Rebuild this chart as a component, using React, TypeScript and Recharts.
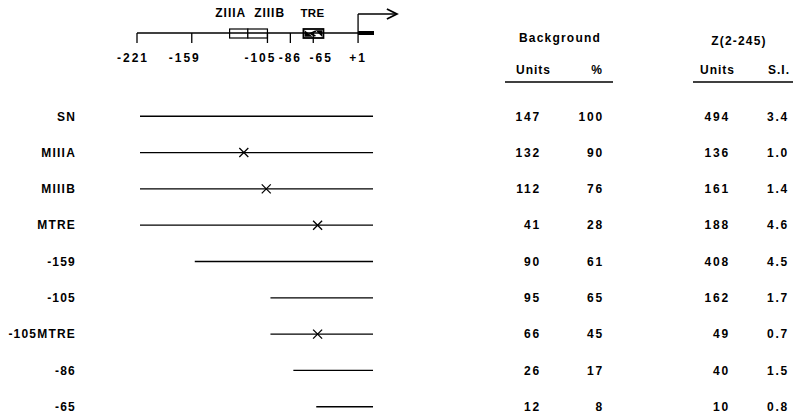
import React from "react";
import {
  ComposedChart,
  Scatter,
  XAxis,
  YAxis,
  ReferenceLine,
  ReferenceArea,
  ReferenceDot,
} from "recharts";

// constructs, top to bottom
const CONSTRUCTS = ["SN", "MIIIA", "MIIIB", "MTRE", "-159", "-105", "-105MTRE", "-86", "-65"];
const CONSTRUCT_START = [-221, -221, -221, -221, -159, -105, -105, -86, -65];
const CONSTRUCT_END = 13; // lines run a little past +1 into the reporter
const MUTATION_SITE: (number | null)[] = [null, -124, -108, -63, null, null, -63, null, null];

// table
const BG_UNITS = [147, 132, 112, 41, 90, 95, 66, 26, 12];
const BG_PERCENT = [100, 90, 76, 28, 61, 65, 45, 17, 8];
const Z_UNITS = [494, 136, 161, 188, 408, 162, 49, 40, 10];
const Z_SI = ["3.4", "1.0", "1.4", "4.6", "4.5", "1.7", "0.7", "1.5", "0.8"];

// promoter map; the published map is not drawn to scale, so each labelled
// position also gets the spot where it sits along the drawn line
const MAP_TICKS = [-221, -159, -105, -86, -65, 1];
const MAP_TICKS_DRAWN = [-221, -166, -90, -67, -44, 1];
const MAP_BOXES = [
  { name: "ZIIIA", from: -132, to: -119 },
  { name: "ZIIIB", from: -119, to: -105 },
  { name: "TRE", from: -74, to: -50 },
];
const REPORTER_END = 17;
const ARROW_END = 40;

const FONT = '"Liberation Sans", Arial, Helvetica, sans-serif';
const ROWS = CONSTRUCTS.map((_, i) => i);

function drawn(bp: number) {
  if (bp >= 1) return bp;
  for (let i = 1; i < MAP_TICKS.length; i++) {
    if (bp <= MAP_TICKS[i]) {
      const t = (bp - MAP_TICKS[i - 1]) / (MAP_TICKS[i] - MAP_TICKS[i - 1]);
      return MAP_TICKS_DRAWN[i - 1] + t * (MAP_TICKS_DRAWN[i] - MAP_TICKS_DRAWN[i - 1]);
    }
  }
  return bp;
}

const TICK_NUDGE: Record<number, number> = { "-221": -4, "-159": -7, "-105": -7, "-86": 0, "-65": 8, "1": 0 };
const BOX_LABEL_NUDGE: Record<string, number> = { ZIIIA: -8, ZIIIB: 12, TRE: -1 };

function MapTick(props: any) {
  const { x, y, payload } = props;
  const i = MAP_TICKS_DRAWN.indexOf(payload.value);
  const bp = MAP_TICKS[i];
  return (
    <text
      x={x + (TICK_NUDGE[bp] || 0)}
      y={y}
      dy="0.71em"
      textAnchor="middle"
      fill="#000"
      fontSize={12}
      fontWeight={700}
      fontFamily={FONT}
      letterSpacing={2}
    >
      {bp > 0 ? `+${bp}` : `${bp}`}
    </text>
  );
}

function MapBox(props: any) {
  const { x, y, width, height, name } = props;
  const isTre = name === "TRE";
  return (
    <g>
      <rect x={x} y={y} width={width} height={height} fill="#fff" stroke="#000" strokeWidth={isTre ? 1.8 : 1.2} />
      {isTre && (
        <g stroke="#000" strokeWidth={1.6} fill="none">
          <path d={`M${x + 2},${y + height - 2} L${x + 7},${y + height - 2} L${x + 2},${y + 3} Z`} fill="#000" />
          <path d={`M${x + width * 0.62},${y + 2} L${x + width * 0.35},${y + height / 2} L${x + width * 0.6},${y + height - 2}`} />
          <path d={`M${x + width - 6},${y + 2} L${x + width - 2},${y + 2} L${x + width - 2},${y + 6} Z`} fill="#000" />
        </g>
      )}
      <text
        x={x + width / 2 + (BOX_LABEL_NUDGE[name] || 0)}
        y={y - 16}
        textAnchor="middle"
        dominantBaseline="central"
        fill="#000"
        fontSize={isTre ? 11.5 : 12}
        fontWeight={700}
        fontFamily={FONT}
        letterSpacing={isTre ? 0.3 : 1}
      >
        {name}
      </text>
    </g>
  );
}

function ArrowHead(props: any) {
  const { cx, cy } = props;
  return <path d={`M${cx - 10},${cy - 5} L${cx},${cy} L${cx - 10},${cy + 5}`} fill="none" stroke="#000" strokeWidth={1.8} />;
}

function XMark(props: any) {
  const { cx, cy } = props;
  if (cx == null || cy == null) return <g />;
  return (
    <g stroke="#000" strokeWidth={1.3}>
      <line x1={cx - 4.5} y1={cy - 4.5} x2={cx + 4.5} y2={cy + 4.5} />
      <line x1={cx - 4.5} y1={cy + 4.5} x2={cx + 4.5} y2={cy - 4.5} />
    </g>
  );
}

const NoDot = () => <g />;

type Column = {
  key: string;
  title: string;
  values: (number | string)[];
  width: number;
  edge: number;
  titleNudge: number;
  group?: { title: string; dx: number; lineFrom: number; lineTo: number; dy: number };
};

// right-hand axes are laid out in id order, so ids c0..c3 keep them left to right
const COLUMNS: Column[] = [
  { key: "c0", title: "Units", values: BG_UNITS, width: 200, edge: 164, titleNudge: 10,
    group: { title: "Background", dx: 19, lineFrom: -36, lineTo: 72, dy: -71 } },
  { key: "c1", title: "%", values: BG_PERCENT, width: 63, edge: 27, titleNudge: -1 },
  { key: "c2", title: "Units", values: Z_UNITS, width: 100, edge: 90, titleNudge: 5,
    group: { title: "Z(2-245)", dx: 9, lineFrom: -37, lineTo: 63, dy: -68 } },
  { key: "c3", title: "S.I.", values: Z_SI, width: 53, edge: 49, titleNudge: 1 },
];

function ColumnHeader(props: any) {
  const { viewBox, col } = props;
  const right = viewBox.x + col.edge;
  const top = viewBox.y;
  const text = { fill: "#000", fontFamily: FONT, fontSize: 12, fontWeight: 700, dominantBaseline: "central" as const };
  return (
    <g>
      <text {...text} x={right + col.titleNudge} y={top - 39} textAnchor="end" letterSpacing={1}>
        {col.title}
      </text>
      {col.group && (
        <>
          <text {...text} x={right + col.group.dx} y={top + col.group.dy} textAnchor="middle" letterSpacing={1.2}>
            {col.group.title}
          </text>
          <line x1={right + col.group.lineFrom} x2={right + col.group.lineTo} y1={top - 27} y2={top - 27} stroke="#000" strokeWidth={1.5} />
        </>
      )}
    </g>
  );
}

function MapChart() {
  return (
    <ComposedChart width={420} height={75} margin={{ top: 14, right: 46, bottom: 0, left: 137 }} data={[]}>
      <XAxis
        type="number"
        dataKey="x"
        domain={[-221, REPORTER_END]}
        allowDataOverflow
        ticks={MAP_TICKS.map(drawn)}
        interval={0}
        axisLine={false}
        tickLine={{ stroke: "#000", strokeWidth: 1.3 }}
        tickSize={10}
        tickMargin={10}
        height={42}
        tick={<MapTick />}
      />
      <YAxis type="number" domain={[0, 19]} allowDataOverflow hide />
      <ReferenceLine
        segment={[{ x: drawn(-221), y: 0 }, { x: drawn(1), y: 0 }]}
        stroke="#000"
        strokeWidth={1.3}
        ifOverflow="visible"
      />
      <ReferenceLine
        segment={[{ x: drawn(1), y: 0 }, { x: drawn(REPORTER_END), y: 0 }]}
        stroke="#000"
        strokeWidth={4}
        ifOverflow="visible"
      />
      <ReferenceLine
        segment={[{ x: drawn(1), y: 0 }, { x: drawn(1), y: 19 }]}
        stroke="#000"
        strokeWidth={1.3}
        ifOverflow="visible"
      />
      <ReferenceLine
        segment={[{ x: drawn(1), y: 19 }, { x: ARROW_END, y: 19 }]}
        stroke="#000"
        strokeWidth={1.3}
        ifOverflow="visible"
      />
      <ReferenceDot x={ARROW_END} y={19} ifOverflow="visible" shape={<ArrowHead />} />
      {MAP_BOXES.map((b) => (
        <ReferenceArea
          key={b.name}
          x1={drawn(b.from)}
          x2={drawn(b.to)}
          y1={-5}
          y2={4}
          ifOverflow="visible"
          shape={<MapBox name={b.name} />}
        />
      ))}
    </ComposedChart>
  );
}

function ConstructChart() {
  return (
    <ComposedChart width={793} height={418} margin={{ top: 109, right: 0, bottom: 4, left: 0 }}>
      <XAxis type="number" dataKey="x" domain={[-221, REPORTER_END]} allowDataOverflow hide />
      <YAxis
        yAxisId="rows"
        type="number"
        dataKey="y"
        domain={[-0.2, 8.2]}
        allowDataOverflow
        reversed
        ticks={ROWS}
        interval={0}
        width={140}
        axisLine={false}
        tickLine={false}
        tickSize={0}
        tickMargin={64}
        tickFormatter={(i: number) => CONSTRUCTS[i]}
        tick={{ fill: "#000", fontSize: 12, fontWeight: 700, fontFamily: FONT, letterSpacing: 1.2 }}
      />
      {COLUMNS.map((c) => (
        <YAxis
          key={c.key}
          yAxisId={c.key}
          orientation="right"
          type="number"
          domain={[-0.2, 8.2]}
          allowDataOverflow
          reversed
          ticks={ROWS}
          interval={0}
          width={c.width}
          axisLine={false}
          tickLine={false}
          tickSize={0}
          tickMargin={c.edge}
          tickFormatter={(i: number) => String(c.values[i])}
          tick={{ fill: "#000", fontSize: 12, fontWeight: 700, fontFamily: FONT, letterSpacing: 1.8, textAnchor: "end" }}
          label={<ColumnHeader col={c} />}
        />
      ))}
      {CONSTRUCTS.map((name, i) => (
        <Scatter
          key={name}
          yAxisId="rows"
          data={[
            { x: drawn(CONSTRUCT_START[i]), y: i },
            { x: drawn(CONSTRUCT_END), y: i },
          ]}
          dataKey="x"
          line={{ stroke: "#000", strokeWidth: 1.3 }}
          shape={<NoDot />}
          isAnimationActive={false}
        />
      ))}
      <Scatter
        yAxisId="rows"
        data={MUTATION_SITE.flatMap((site, i) => (site == null ? [] : [{ x: drawn(site), y: i }]))}
        dataKey="x"
        shape={<XMark />}
        isAnimationActive={false}
      />
    </ComposedChart>
  );
}

export default function App() {
  return (
    <div style={{ position: "relative", width: 793, height: 418, background: "#fff" }}>
      <style>{"body{margin:0}"}</style>
      <div style={{ position: "absolute", left: 0, top: 0 }}>
        <ConstructChart />
      </div>
      <div style={{ position: "absolute", left: 0, top: 0 }}>
        <MapChart />
      </div>
    </div>
  );
}
